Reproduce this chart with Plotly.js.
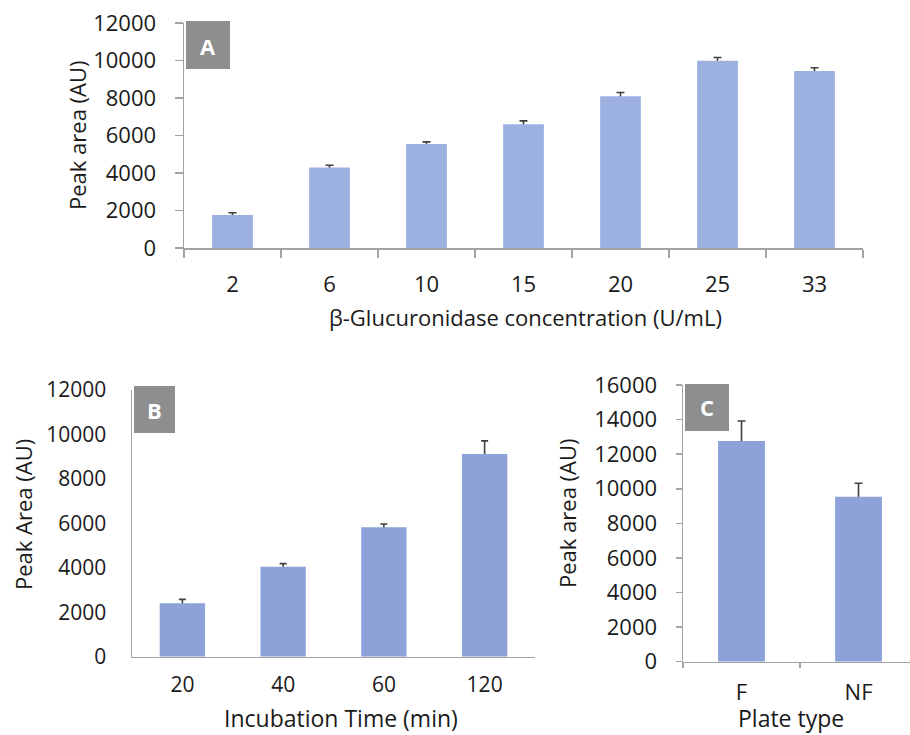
<!DOCTYPE html>
<html>
<head>
<meta charset="utf-8">
<script src="https://cdn.plot.ly/plotly-3.0.1.min.js"></script>
<style>html,body{margin:0;padding:0;background:#fff;}#chart{width:910px;height:735px;}</style>
</head>
<body>
<div id="chart"></div>
<script>
// ---- Data ----
const concCategories = ['2', '6', '10', '15', '20', '25', '33'];
const concPeakArea = [1760, 4300, 5550, 6600, 8090, 9990, 9440];
const concError = [120, 110, 110, 180, 200, 170, 170];

const timeCategories = ['20', '40', '60', '120'];
const timePeakArea = [2400, 4050, 5820, 9120];
const timeError = [180, 140, 150, 590];

const plateCategories = ['F', 'NF'];
const platePeakArea = [12760, 9540];
const plateError = [1160, 780];

const panelLetters = ['A', 'B', 'C'];
const yTickValsAB = [0, 2000, 4000, 6000, 8000, 10000, 12000];
const yTickValsC = [0, 2000, 4000, 6000, 8000, 10000, 12000, 14000, 16000];

// ---- Helpers ----
const W = 910, H = 735;
const px = v => v / W;
const py = v => 1 - v / H;
const FONT = 'Open Sans, Noto Sans, sans-serif';
const TXT = '#1a1a1a';
const AXC = '#a3a3a3';
const ERRC = '#3f3f3f';

function errTrace(x, y, err, xa, ya, w) {
  return {
    type: 'scatter', mode: 'markers', x: x, y: y,
    xaxis: xa, yaxis: ya,
    marker: {size: 1, opacity: 0},
    error_y: {type: 'data', array: err, visible: true, color: ERRC, thickness: 1.6, width: w},
    hoverinfo: 'skip', showlegend: false
  };
}
function barTrace(x, y, xa, ya, color, width) {
  return {
    type: 'bar', x: x, y: y, xaxis: xa, yaxis: ya,
    marker: {color: color, line: {width: 0}},
    width: width, showlegend: false
  };
}

const data = [
  errTrace(concCategories, concPeakArea, concError, 'x', 'y', 4),
  barTrace(concCategories, concPeakArea, 'x', 'y4', '#9cb1e0', 0.42),
  errTrace(timeCategories, timePeakArea, timeError, 'x2', 'y2', 3.5),
  barTrace(timeCategories, timePeakArea, 'x2', 'y5', '#8da2d8', 0.45),
  errTrace(plateCategories, platePeakArea, plateError, 'x3', 'y3', 4),
  barTrace(plateCategories, platePeakArea, 'x3', 'y6', '#8da2d8', 0.40)
];

const baseAxis = {
  showgrid: false, zeroline: false, showline: true,
  linecolor: AXC, linewidth: 1.5, tickcolor: AXC, tickwidth: 1.5,
  tickfont: {family: FONT, size: 22, color: TXT},
  tickformat: 'd',
  fixedrange: true
};

function ann(text, x, y, size, extra) {
  return Object.assign({
    text: text, xref: 'paper', yref: 'paper', x: px(x), y: py(y),
    xanchor: 'center', yanchor: 'middle', showarrow: false,
    font: {family: FONT, size: size, color: TXT}
  }, extra || {});
}
const white = {family: FONT, size: 22, color: '#ffffff'};

const layout = {
  width: W, height: H,
  margin: {l: 0, r: 0, t: 0, b: 0},
  paper_bgcolor: '#ffffff', plot_bgcolor: 'rgba(0,0,0,0)',
  showlegend: false,
  font: {family: FONT, color: TXT},
  // Panel A
  xaxis: Object.assign({}, baseAxis, {
    type: 'category', domain: [px(184), px(863)], anchor: 'y',
    range: [-0.5, 6.5], ticks: 'outside', ticklen: 8, tickson: 'boundaries',
    ticklabelstandoff: 16
  }),
  yaxis: Object.assign({}, baseAxis, {
    domain: [py(248), py(23)], anchor: 'x', range: [0, 12000],
    tickvals: yTickValsAB, ticks: 'outside', ticklen: 8, ticklabelstandoff: 14
  }),
  yaxis4: {overlaying: 'y', range: [0, 12000], visible: false, fixedrange: true},
  // Panel B
  xaxis2: Object.assign({}, baseAxis, {
    type: 'category', domain: [px(132), px(535)], anchor: 'y2',
    range: [-0.5, 3.5], ticks: '', ticklabelstandoff: 9,
    tickfont: {family: FONT, size: 21, color: TXT}
  }),
  yaxis2: Object.assign({}, baseAxis, {
    domain: [py(656.7), py(390)], anchor: 'x2', range: [0, 12000],
    tickvals: yTickValsAB, ticks: '', ticklabelstandoff: 20,
    tickfont: {family: FONT, size: 21, color: TXT}
  }),
  yaxis5: {overlaying: 'y2', range: [0, 12000], visible: false, fixedrange: true},
  // Panel C
  xaxis3: Object.assign({}, baseAxis, {
    type: 'category', domain: [px(683), 1], anchor: 'y3',
    range: [-0.5, 1.44], ticks: 'outside', ticklen: 5, tickson: 'boundaries',
    ticklabelstandoff: 10
  }),
  yaxis3: Object.assign({}, baseAxis, {
    domain: [py(661.7), py(385)], anchor: 'x3', range: [0, 16000],
    tickvals: yTickValsC, ticks: 'outside', ticklen: 6, ticklabelstandoff: 14
  }),
  yaxis6: {overlaying: 'y3', range: [0, 16000], visible: false, fixedrange: true},
  shapes: [
    {type: 'rect', xref: 'paper', yref: 'paper', x0: px(186), x1: px(230), y0: py(69), y1: py(21),
     fillcolor: '#8e8e8e', line: {width: 0}, layer: 'above'},
    {type: 'rect', xref: 'paper', yref: 'paper', x0: px(134), x1: px(175), y0: py(433), y1: py(386),
     fillcolor: '#8e8e8e', line: {width: 0}, layer: 'above'},
    {type: 'rect', xref: 'paper', yref: 'paper', x0: px(685), x1: px(729), y0: py(431), y1: py(384),
     fillcolor: '#8e8e8e', line: {width: 0}, layer: 'above'}
  ],
  annotations: [
    ann('<b>' + panelLetters[0] + '</b>', 208, 46, 22, {font: white}),
    ann('<b>' + panelLetters[1] + '</b>', 154.5, 410, 22, {font: white}),
    ann('<b>' + panelLetters[2] + '</b>', 707, 407, 22, {font: white}),
    ann('Peak area (AU)', 77, 135, 22, {textangle: -90}),
    ann('β-Glucuronidase concentration (U/mL)', 525, 317, 22),
    ann('Peak Area (AU)', 23, 515, 22, {textangle: -90}),
    ann('Incubation Time (min)', 341, 718, 23),
    ann('Peak area (AU)', 567, 513, 22, {textangle: -90}),
    ann('Plate type', 791, 718, 23)
  ]
};

Plotly.newPlot('chart', data, layout, {staticPlot: true, displayModeBar: false});
</script>
</body>
</html>
